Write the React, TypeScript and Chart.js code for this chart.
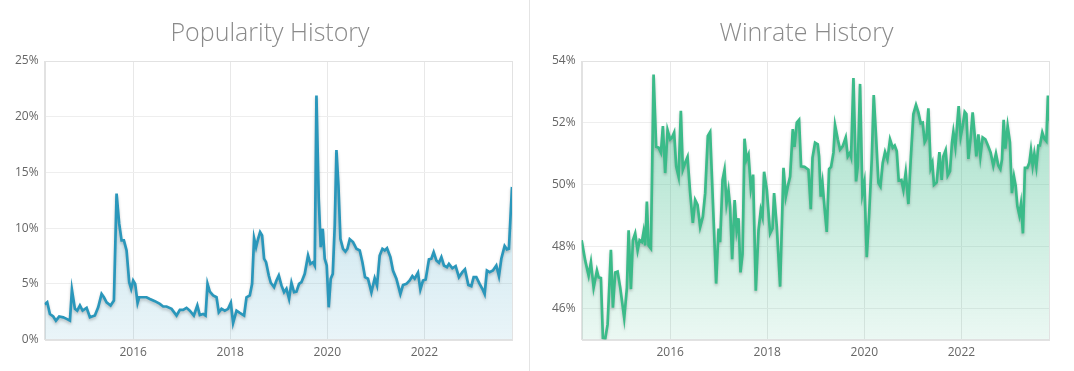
import React, { useEffect, useRef } from 'react';
import { Chart, registerables } from 'chart.js';

Chart.register(...registerables);

const X_MIN = 2014.176;
const X_MAX = 2023.805;
const X_TICK_STEP = 2;

const popDates = [
  2014.176, 2014.229, 2014.285, 2014.353, 2014.408, 2014.476, 2014.559, 2014.629, 2014.697, 2014.738,
  2014.8, 2014.847, 2014.903, 2014.958, 2015.041, 2015.109, 2015.211, 2015.279, 2015.349, 2015.397,
  2015.452, 2015.535, 2015.603, 2015.658, 2015.712, 2015.761, 2015.809, 2015.864, 2015.918, 2015.959,
  2016.0, 2016.041, 2016.091, 2016.124, 2016.206, 2016.276, 2016.344, 2016.447, 2016.55, 2016.618,
  2016.688, 2016.791, 2016.894, 2016.962, 2017.029, 2017.099, 2017.167, 2017.25, 2017.322, 2017.373,
  2017.441, 2017.491, 2017.532, 2017.579, 2017.647, 2017.717, 2017.764, 2017.82, 2017.888, 2017.956,
  2018.012, 2018.059, 2018.129, 2018.197, 2018.285, 2018.335, 2018.403, 2018.45, 2018.491, 2018.532,
  2018.574, 2018.615, 2018.656, 2018.697, 2018.738, 2018.794, 2018.835, 2018.903, 2018.952, 2019.0,
  2019.055, 2019.109, 2019.158, 2019.212, 2019.261, 2019.315, 2019.364, 2019.418, 2019.467, 2019.535,
  2019.603, 2019.652, 2019.706, 2019.741, 2019.776, 2019.823, 2019.865, 2019.906, 2019.947, 2019.988,
  2020.029, 2020.07, 2020.112, 2020.153, 2020.188, 2020.229, 2020.27, 2020.324, 2020.373, 2020.414,
  2020.462, 2020.53, 2020.6, 2020.668, 2020.723, 2020.777, 2020.838, 2020.908, 2020.976, 2021.024,
  2021.079, 2021.135, 2021.182, 2021.23, 2021.3, 2021.353, 2021.423, 2021.505, 2021.559, 2021.629,
  2021.697, 2021.753, 2021.8, 2021.868, 2021.917, 2021.971, 2022.026, 2022.094, 2022.144, 2022.191,
  2022.247, 2022.3, 2022.35, 2022.403, 2022.465, 2022.506, 2022.576, 2022.644, 2022.712, 2022.782,
  2022.836, 2022.906, 2022.967, 2023.015, 2023.07, 2023.138, 2023.194, 2023.241, 2023.288, 2023.344,
  2023.412, 2023.482, 2023.536, 2023.585, 2023.653, 2023.7, 2023.741, 2023.805,
];

const popValues = [
  3.15, 3.35, 2.3, 2.07, 1.7, 2.07, 2.0, 1.86, 1.7, 4.47,
  2.76, 2.6, 3.06, 2.6, 2.85, 2.0, 2.16, 2.9, 4.1, 3.8,
  3.35, 3.06, 3.5, 13.1, 10.4, 8.9, 8.9, 8.0, 5.15, 4.55,
  5.3, 5.0, 3.3, 3.8, 3.8, 3.8, 3.65, 3.45, 3.2, 2.97,
  2.97, 2.76, 2.16, 2.67, 2.67, 2.85, 2.6, 2.16, 3.06, 2.2,
  2.3, 2.16, 5.0, 4.3, 3.96, 3.8, 2.45, 2.76, 2.6, 2.76,
  3.3, 1.5, 2.6, 2.4, 2.16, 3.8, 3.96, 5.0, 9.1, 8.3,
  9.05, 9.65, 9.35, 7.26, 6.95, 5.75, 5.1, 4.7, 5.3, 5.75,
  4.86, 4.25, 4.56, 3.66, 5.1, 4.25, 4.3, 5.0, 5.15, 5.9,
  7.55, 6.8, 6.95, 6.65, 21.9, 12.65, 8.3, 9.95, 7.26, 6.65,
  2.9, 5.46, 5.9, 10.25, 17.0, 13.85, 9.05, 8.15, 7.9, 8.15,
  9.0, 8.75, 8.15, 8.0, 6.95, 5.6, 5.46, 4.25, 5.5, 4.86,
  7.55, 8.15, 8.0, 8.2, 7.4, 6.2, 5.46, 4.1, 4.9, 5.0,
  5.3, 5.7, 5.46, 6.0, 4.5, 5.3, 5.4, 7.2, 7.26, 7.85,
  7.1, 6.9, 7.4, 6.65, 6.5, 6.8, 6.4, 6.6, 5.6, 6.05,
  6.3, 4.9, 4.8, 5.6, 5.6, 5.0, 4.56, 4.1, 6.2, 6.05,
  6.2, 6.65, 5.7, 7.26, 8.4, 8.1, 8.15, 13.7,
];

const winDates = [
  2014.176, 2014.25, 2014.32, 2014.367, 2014.423, 2014.491, 2014.526, 2014.573, 2014.614, 2014.662,
  2014.711, 2014.779, 2014.82, 2014.868, 2014.917, 2014.971, 2015.053, 2015.109, 2015.144, 2015.191,
  2015.232, 2015.279, 2015.329, 2015.37, 2015.417, 2015.452, 2015.485, 2015.52, 2015.555, 2015.603,
  2015.658, 2015.712, 2015.761, 2015.809, 2015.85, 2015.897, 2015.946, 2016.0, 2016.035, 2016.082,
  2016.124, 2016.173, 2016.22, 2016.261, 2016.309, 2016.358, 2016.412, 2016.467, 2016.515, 2016.564,
  2016.618, 2016.673, 2016.721, 2016.776, 2016.824, 2016.879, 2016.947, 2016.997, 2017.029, 2017.079,
  2017.12, 2017.161, 2017.202, 2017.235, 2017.277, 2017.328, 2017.369, 2017.408, 2017.449, 2017.491,
  2017.532, 2017.573, 2017.614, 2017.662, 2017.709, 2017.764, 2017.82, 2017.867, 2017.902, 2017.935,
  2017.991, 2018.059, 2018.108, 2018.141, 2018.197, 2018.265, 2018.335, 2018.382, 2018.423, 2018.471,
  2018.526, 2018.561, 2018.609, 2018.656, 2018.697, 2018.767, 2018.849, 2018.897, 2018.932, 2018.985,
  2019.041, 2019.068, 2019.103, 2019.138, 2019.179, 2019.226, 2019.274, 2019.315, 2019.364, 2019.397,
  2019.453, 2019.5, 2019.556, 2019.617, 2019.659, 2019.706, 2019.727, 2019.776, 2019.83, 2019.865,
  2019.912, 2019.961, 2020.002, 2020.05, 2020.097, 2020.153, 2020.194, 2020.241, 2020.291, 2020.332,
  2020.379, 2020.427, 2020.476, 2020.53, 2020.585, 2020.626, 2020.668, 2020.709, 2020.764, 2020.805,
  2020.853, 2020.908, 2020.956, 2021.011, 2021.065, 2021.114, 2021.162, 2021.203, 2021.244, 2021.279,
  2021.32, 2021.368, 2021.402, 2021.435, 2021.491, 2021.547, 2021.594, 2021.629, 2021.676, 2021.718,
  2021.765, 2021.806, 2021.835, 2021.876, 2021.944, 2021.985, 2022.026, 2022.068, 2022.103, 2022.144,
  2022.191, 2022.232, 2022.273, 2022.308, 2022.35, 2022.391, 2022.438, 2022.494, 2022.547, 2022.603,
  2022.658, 2022.712, 2022.761, 2022.803, 2022.836, 2022.871, 2022.906, 2022.953, 2023.0, 2023.041,
  2023.083, 2023.118, 2023.153, 2023.194, 2023.227, 2023.268, 2023.309, 2023.358, 2023.4, 2023.433,
  2023.468, 2023.503, 2023.544, 2023.585, 2023.618, 2023.667, 2023.709, 2023.75, 2023.783, 2023.805,
];

const winValues = [
  48.21, 47.55, 47.07, 47.5, 46.68, 47.23, 47.01, 46.99, 45.05, 45.03,
  45.49, 47.9, 46.03, 47.17, 47.2, 46.68, 45.7, 46.68, 48.53, 46.63,
  48.21, 48.43, 47.88, 48.21, 48.15, 48.48, 48.04, 49.46, 48.04, 47.94,
  53.56, 51.23, 51.2, 51.04, 51.9, 50.38, 51.77, 51.47, 51.52, 51.69,
  50.6, 50.27, 52.39, 50.49, 50.71, 50.9, 49.73, 48.77, 49.51, 49.35,
  48.64, 48.97, 49.73, 51.58, 51.71, 49.51, 46.81, 48.59, 48.15, 50.16,
  50.49, 49.4, 49.82, 49.29, 47.6, 49.51, 48.53, 48.92, 47.17, 47.77,
  51.49, 50.82, 50.98, 49.89, 50.33, 46.58, 48.53, 49.19, 48.97, 50.42,
  49.84, 48.43, 48.59, 49.73, 48.64, 46.71, 50.55, 49.62, 49.95, 50.27,
  51.8, 51.23, 52.01, 52.1, 50.6, 50.58, 50.49, 49.21, 50.87, 51.36,
  51.31, 50.92, 49.62, 50.06, 49.29, 48.48, 50.51, 50.58, 51.04, 51.93,
  51.47, 51.14, 51.25, 51.53, 50.92, 51.04, 50.92, 53.45, 50.11, 50.6,
  53.26, 49.73, 50.08, 47.66, 48.97, 50.82, 52.9, 51.58, 50.06, 49.95,
  50.71, 51.06, 50.82, 51.47, 51.2, 51.27, 51.09, 50.14, 50.16, 49.84,
  50.4, 49.38, 50.82, 52.29, 52.58, 52.34, 51.99, 52.01, 51.38, 51.49,
  52.47, 50.55, 50.71, 50.0, 50.08, 51.06, 50.16, 50.92, 51.12, 50.3,
  50.44, 51.36, 51.71, 51.23, 52.54, 51.56, 51.9, 52.36, 52.29, 50.84,
  51.53, 52.34, 51.63, 50.92, 51.63, 50.92, 51.53, 51.47, 51.27, 51.04,
  50.62, 51.01, 50.62, 50.51, 50.82, 52.1, 51.17, 51.9, 51.38, 49.73,
  50.27, 49.97, 49.32, 49.02, 49.38, 48.43, 50.55, 50.55, 50.71, 51.12,
  50.62, 51.01, 50.58, 51.27, 51.27, 51.69, 51.49, 51.41, 52.88, 52.07,
];

const POP_Y_MIN = 0;
const POP_Y_MAX = 25;
const POP_Y_STEP = 5;
const WIN_Y_MIN = 45;
const WIN_Y_MAX = 54;
const WIN_Y_STEP = 2;

const FONT = '"Open Sans", "DejaVu Sans", sans-serif';

const framePlugin = {
  id: 'frame',
  beforeDatasetsDraw(chart: any) {
    const { ctx, chartArea } = chart;
    ctx.save();
    ctx.strokeStyle = '#e2e2e2';
    ctx.lineWidth = 1;
    ctx.strokeRect(
      Math.round(chartArea.left) + 0.5,
      Math.round(chartArea.top) + 0.5,
      Math.round(chartArea.right - chartArea.left),
      Math.round(chartArea.bottom - chartArea.top)
    );
    ctx.restore();
  },
};

const shadowPlugin = {
  id: 'lineShadow',
  beforeDatasetDraw(chart: any) {
    const ctx = chart.ctx;
    ctx.save();
    ctx.shadowColor = 'rgba(0,0,0,0.22)';
    ctx.shadowBlur = 3;
    ctx.shadowOffsetY = 2;
  },
  afterDatasetDraw(chart: any) {
    chart.ctx.restore();
  },
};

type Props = {
  dates: number[];
  values: number[];
  rgb: string;
  topAlpha: number;
  bottomAlpha: number;
  yMin: number;
  yMax: number;
  yStep: number;
  padLeft: number;
};

function HistoryChart(p: Props) {
  const ref = useRef<HTMLCanvasElement | null>(null);
  useEffect(() => {
    if (!ref.current) return;
    const points = p.dates.map((d, i) => ({ x: d, y: p.values[i] }));
    const chart = new Chart(ref.current, {
      type: 'line',
      data: {
        datasets: [
          {
            data: points,
            borderColor: `rgb(${p.rgb})`,
            borderWidth: 2.7,
            pointRadius: 0,
            tension: 0,
            fill: 'start',
            backgroundColor: (c: any) => {
              const area = c.chart.chartArea;
              if (!area) return `rgba(${p.rgb},${p.bottomAlpha})`;
              const g = c.chart.ctx.createLinearGradient(0, area.top, 0, area.bottom);
              g.addColorStop(0, `rgba(${p.rgb},${p.topAlpha})`);
              g.addColorStop(1, `rgba(${p.rgb},${p.bottomAlpha})`);
              return g;
            },
          },
        ],
      },
      options: {
        responsive: false,
        animation: false,
        devicePixelRatio: 1,
        layout: { padding: { left: p.padLeft, right: 25, top: 61, bottom: 5 } },
        plugins: {
          legend: { display: false },
          tooltip: { enabled: false },
          title: { display: false },
        },
        scales: {
          x: {
            type: 'linear',
            min: X_MIN,
            max: X_MAX,
            ticks: {
              stepSize: X_TICK_STEP,
              includeBounds: false,
              maxRotation: 0,
              color: '#666',
              padding: 6,
              font: { family: FONT, size: 12 },
              callback: (v: any) => String(v),
            },
            grid: { color: '#e8e8e8', drawTicks: false },
            border: { color: '#e2e2e2' },
          },
          y: {
            min: p.yMin,
            max: p.yMax,
            ticks: {
              stepSize: p.yStep,
              includeBounds: false,
              color: '#666',
              padding: 6,
              font: { family: FONT, size: 12 },
              callback: (v: any) => `${v}%`,
            },
            grid: { color: '#eeeeee', drawTicks: false },
            border: { color: '#e2e2e2' },
          },
        },
      },
      plugins: [framePlugin, shadowPlugin],
    } as any);
    return () => chart.destroy();
  }, []);
  return <canvas ref={ref} width={537} height={371} style={{ display: 'block', width: 537, height: 371 }} />;
}

function Title({ text, center }: { text: string; center: number }) {
  return (
    <div
      style={{
        position: 'absolute',
        left: center - 200,
        top: 14,
        width: 400,
        textAlign: 'center',
        fontFamily: FONT,
        fontWeight: 300,
        fontSize: 25,
        lineHeight: '34px',
        color: '#8a8a8a',
        whiteSpace: 'nowrap',
      }}
    >
      {text}
    </div>
  );
}

export default function App() {
  return (
    <div style={{ position: 'absolute', left: 0, top: 0, width: 1074, height: 371, background: '#fff', overflow: 'hidden' }}>
      <div style={{ position: 'absolute', left: 0, top: 0 }}>
        <HistoryChart
          dates={popDates}
          values={popValues}
          rgb="42,151,187"
          topAlpha={0.36}
          bottomAlpha={0.1}
          yMin={POP_Y_MIN}
          yMax={POP_Y_MAX}
          yStep={POP_Y_STEP}
          padLeft={9}
        />
      </div>
      <div style={{ position: 'absolute', left: 529, top: 0, width: 1, height: 371, background: '#e4e4e4' }} />
      <div style={{ position: 'absolute', left: 537, top: 0 }}>
        <HistoryChart
          dates={winDates}
          values={winValues}
          rgb="59,187,137"
          topAlpha={0.5}
          bottomAlpha={0.1}
          yMin={WIN_Y_MIN}
          yMax={WIN_Y_MAX}
          yStep={WIN_Y_STEP}
          padLeft={9}
        />
      </div>
      <Title text="Popularity History" center={270} />
      <Title text="Winrate History" center={806.5} />
    </div>
  );
}
